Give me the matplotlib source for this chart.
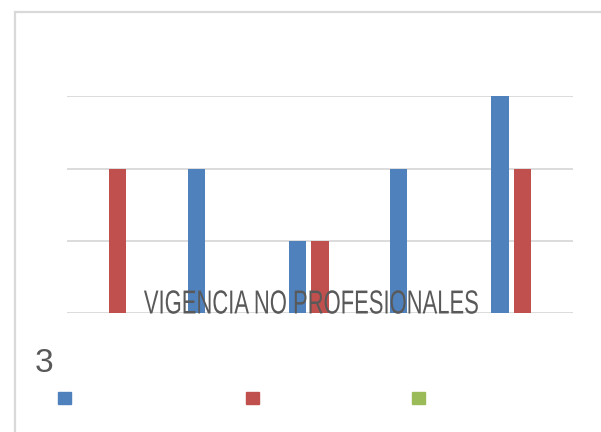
import matplotlib
matplotlib.use("Agg")
import matplotlib.pyplot as plt
from matplotlib.patches import Rectangle, Patch
from matplotlib.patheffects import AbstractPathEffect
from matplotlib.transforms import Affine2D
import numpy as np

# Chart data
categories = ["1", "2", "3", "4", "5"]
serie_azul = [0, 2, 1, 2, 3]
serie_roja = [2, 0, 1, 0, 2]
serie_verde = [0, 0, 0, 0, 0]
y_ticks = [0, 1, 2, 3]
title_text = "VIGENCIA NO PROFESIONALES"
side_label = "3"

colors = ["#4F81BD", "#C0504D", "#9BBB59"]
text_color = "#595959"
grid_color = "#D9D9D9"

W, H = 601, 432
DPI = 100


class HorizontalSqueeze(AbstractPathEffect):
    """Compress glyph outlines horizontally about a fixed x (in pixels)."""

    def __init__(self, sx, cx):
        super().__init__()
        self.sx = sx
        self.cx = cx

    def draw_path(self, renderer, gc, tpath, affine, rgbFace=None):
        squeeze = Affine2D().translate(-self.cx, 0).scale(self.sx, 1).translate(self.cx, 0)
        renderer.draw_path(gc, tpath, affine + squeeze, rgbFace)


fig = plt.figure(figsize=(W / DPI, H / DPI), dpi=DPI)
fig.patch.set_facecolor("white")

# chart-area border (extends past the right/bottom edges)
fig.add_artist(Rectangle((14.5 / W, -0.1), 1.2, 1 - 11.5 / H + 0.1,
                         transform=fig.transFigure, fill=False,
                         ec=grid_color, lw=1.6))

ax = fig.add_axes([67 / W, (H - 313.3) / H, 506 / W, (313.3 - 96.3) / H])
x = np.arange(len(categories))
bar_w = 0.173
step = 0.222
for i, (vals, c) in enumerate(zip([serie_azul, serie_roja, serie_verde], colors)):
    ax.bar(x + (i - 1) * step, vals, width=bar_w, color=c, linewidth=0, zorder=3)

ax.set_xlim(-0.5, len(categories) - 0.5)
ax.set_ylim(0, 3)
ax.set_yticks(y_ticks)
ax.yaxis.grid(True, color=grid_color, lw=1.3, zorder=0)
ax.set_axisbelow(True)
ax.tick_params(left=False, bottom=False, labelleft=False, labelbottom=False)
for s in ax.spines.values():
    s.set_visible(False)
ax.patch.set_alpha(0)

title_cx = 311.5
fig.text(title_cx / W, (H - 313.5) / H, title_text, ha="center", va="baseline",
         fontsize=24, color=text_color,
         family=["Liberation Sans", "DejaVu Sans"], zorder=5,
         path_effects=[HorizontalSqueeze(0.66, title_cx)])
fig.text(35 / W, (H - 372) / H, side_label, ha="left", va="baseline",
         fontsize=24, color=text_color, family=["Liberation Sans", "DejaVu Sans"])

# legend markers without labels
marker_x = [58, 246, 412]
for c, mx in zip(colors, marker_x):
    fig.legend(handles=[Patch(color=c)], labels=[""], loc="center left",
               bbox_to_anchor=(mx / W, (H - 399) / H), frameon=False,
               borderpad=0, borderaxespad=0, handletextpad=0,
               handlelength=0.95, handleheight=1.0, fontsize=10)

fig.savefig("out.png", dpi=DPI)
